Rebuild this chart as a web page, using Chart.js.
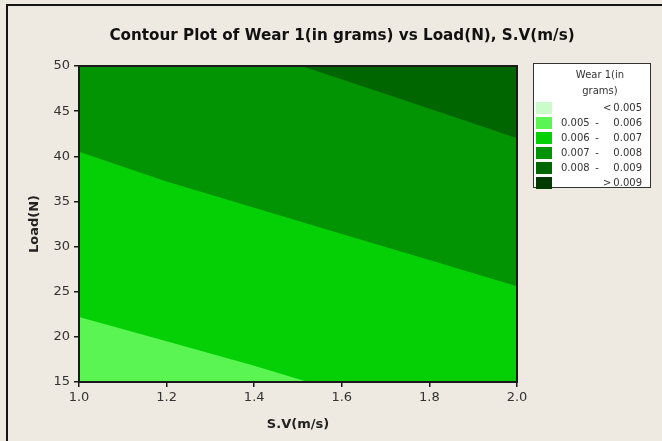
<!DOCTYPE html>
<html>
<head>
<meta charset="utf-8">
<script src="https://cdn.jsdelivr.net/npm/chart.js@4/dist/chart.umd.min.js"></script>
<style>
  html, body { margin: 0; padding: 0; background: #f2efe8; }
  #wrap { position: relative; width: 662px; height: 441px; background: #efeae1; overflow: hidden; }
  #frame { position: absolute; left: 6px; top: 4px; width: 700px; height: 500px;
           border-top: 2px solid #151515; border-left: 2px solid #151515; box-sizing: border-box; }
  #chart { position: absolute; left: 0; top: 0; }
  #title { position: absolute; left: 0; width: 684px; top: 25px; line-height: 20px; text-align: center;
           font-family: "DejaVu Sans", sans-serif; font-weight: bold; font-size: 15.2px; color: #111; white-space: nowrap; }
  #legend { position: absolute; left: 533px; top: 63px; width: 118px; height: 125px; box-sizing: border-box;
            border: 1px solid #333; background: #ffffff; font-family: "DejaVu Sans", sans-serif;
            font-size: 10px; color: #333; }
  #legend .lt { position: absolute; left: 0; width: 132px; text-align: center; line-height: 14px; }
  #legend .sw { position: absolute; left: 2px; width: 16px; height: 12px; }
  #legend .a { position: absolute; left: 27px; line-height: 12px; }
  #legend .s { position: absolute; left: 59px; line-height: 12px; width: 8px; text-align: center; }
  #legend .b { position: absolute; right: 8px; line-height: 12px; text-align: right; }
</style>
</head>
<body>
<div id="wrap">
  <div id="frame"></div>
  <canvas id="chart" width="662" height="441"></canvas>
  <div id="title"></div>
  <div id="legend"></div>
</div>
<script>
// ---- Data ----
const chartTitle = "Contour Plot of Wear 1(in grams) vs Load(N), S.V(m/s)";
const xTitle = "S.V(m/s)";
const yTitle = "Load(N)";
const svMin = 1.0, svMax = 2.0, svStep = 0.2;
const loadMin = 15, loadMax = 50, loadStep = 5;

// lower edge of the 0.005-0.006 region (the plot floor)
const floorSV   = [1.0, 2.0];
const floorLoad = [15, 15];
// contour line 0.006
const c006SV   = [1.0, 1.2, 1.4, 1.523, 2.0];
const c006Load = [22.2, 19.5, 16.8, 15.0, 15.0];
// contour line 0.007
const c007SV   = [1.0, 1.2, 1.4, 1.6, 1.8, 2.0];
const c007Load = [40.5, 37.2, 34.3, 31.4, 28.5, 25.6];
// contour line 0.008
const c008SV   = [1.0, 1.508, 1.75, 2.0];
const c008Load = [50.0, 50.0, 46.1, 42.0];

// legend
const legendTitle = ["Wear 1(in", "grams)"];
const legendLow  = ["<", "0.005", "0.006", "0.007", "0.008", ">"];
const legendHigh = ["0.005", "0.006", "0.007", "0.008", "0.009", "0.009"];
const levelColors = ["#c9fcc9", "#5af552", "#05d005", "#029402", "#006700", "#003b00"];

// ---- Build ----
const pts = (xs, ys) => xs.map((x, i) => ({x: x, y: ys[i]}));
function region(xs, ys, color, order) {
  return { data: pts(xs, ys), fill: 'end', backgroundColor: color, borderWidth: 0,
           pointRadius: 0, tension: 0, order: order };
}

document.getElementById('title').textContent = chartTitle;

const frame = {
  id: 'frame',
  afterDatasetsDraw(chart) {
    const a = chart.chartArea, ctx = chart.ctx;
    ctx.save();
    ctx.strokeStyle = '#1a1a1a';
    ctx.lineWidth = 2;
    ctx.strokeRect(a.left, a.top, a.right - a.left, a.bottom - a.top);
    ctx.restore();
  }
};

new Chart(document.getElementById('chart'), {
  type: 'line',
  data: {
    datasets: [
      region(c008SV, c008Load, levelColors[4], 1),
      region(c007SV, c007Load, levelColors[3], 2),
      region(c006SV, c006Load, levelColors[2], 3),
      region(floorSV, floorLoad, levelColors[1], 4)
    ]
  },
  options: {
    responsive: false,
    animation: false,
    events: [],
    layout: { padding: { left: 23, right: 145, top: 66, bottom: 5 } },
    plugins: { legend: { display: false }, tooltip: { enabled: false }, title: { display: false } },
    scales: {
      x: {
        type: 'linear', min: svMin, max: svMax,
        afterFit(s) { s.height = 54; },
        border: { display: false },
        grid: { drawOnChartArea: false, tickLength: 5, color: '#1a1a1a', lineWidth: 1.5 },
        ticks: { stepSize: svStep, padding: 3, color: '#333', font: { family: 'DejaVu Sans', size: 13 },
                 callback: v => Number(v).toFixed(1), maxRotation: 0 },
        title: { display: true, text: xTitle, color: '#222', padding: { top: 4, bottom: 4 },
                 font: { family: 'DejaVu Sans', size: 13, weight: 'bold' } }
      },
      y: {
        type: 'linear', min: loadMin, max: loadMax,
        afterFit(s) { s.width = 56; },
        border: { display: false },
        grid: { drawOnChartArea: false, tickLength: 5, color: '#1a1a1a', lineWidth: 1.5 },
        ticks: { stepSize: loadStep, padding: 4, color: '#333', font: { family: 'DejaVu Sans', size: 13 } },
        title: { display: true, text: yTitle, color: '#222', padding: { top: 4, bottom: 4 },
                 font: { family: 'DejaVu Sans', size: 13, weight: 'bold' } }
      }
    }
  },
  plugins: [frame]
});

// HTML legend
const lg = document.getElementById('legend');
legendTitle.forEach((t, i) => {
  const d = document.createElement('div');
  d.className = 'lt'; d.style.top = (4 + i * 16) + 'px'; d.textContent = t; lg.appendChild(d);
});
legendLow.forEach((lo, i) => {
  const top = 38 + i * 15;
  const sw = document.createElement('div');
  sw.className = 'sw'; sw.style.top = top + 'px'; sw.style.background = levelColors[i]; lg.appendChild(sw);
  if (lo === '<' || lo === '>') {
    const s = document.createElement('div');
    s.className = 's'; s.style.left = '69px'; s.style.top = top + 'px'; s.textContent = lo; lg.appendChild(s);
  } else {
    const a = document.createElement('div');
    a.className = 'a'; a.style.top = top + 'px'; a.textContent = lo; lg.appendChild(a);
    const s = document.createElement('div');
    s.className = 's'; s.style.top = top + 'px'; s.textContent = '-'; lg.appendChild(s);
  }
  const b = document.createElement('div');
  b.className = 'b'; b.style.top = top + 'px'; b.textContent = legendHigh[i]; lg.appendChild(b);
});
</script>
</body>
</html>
